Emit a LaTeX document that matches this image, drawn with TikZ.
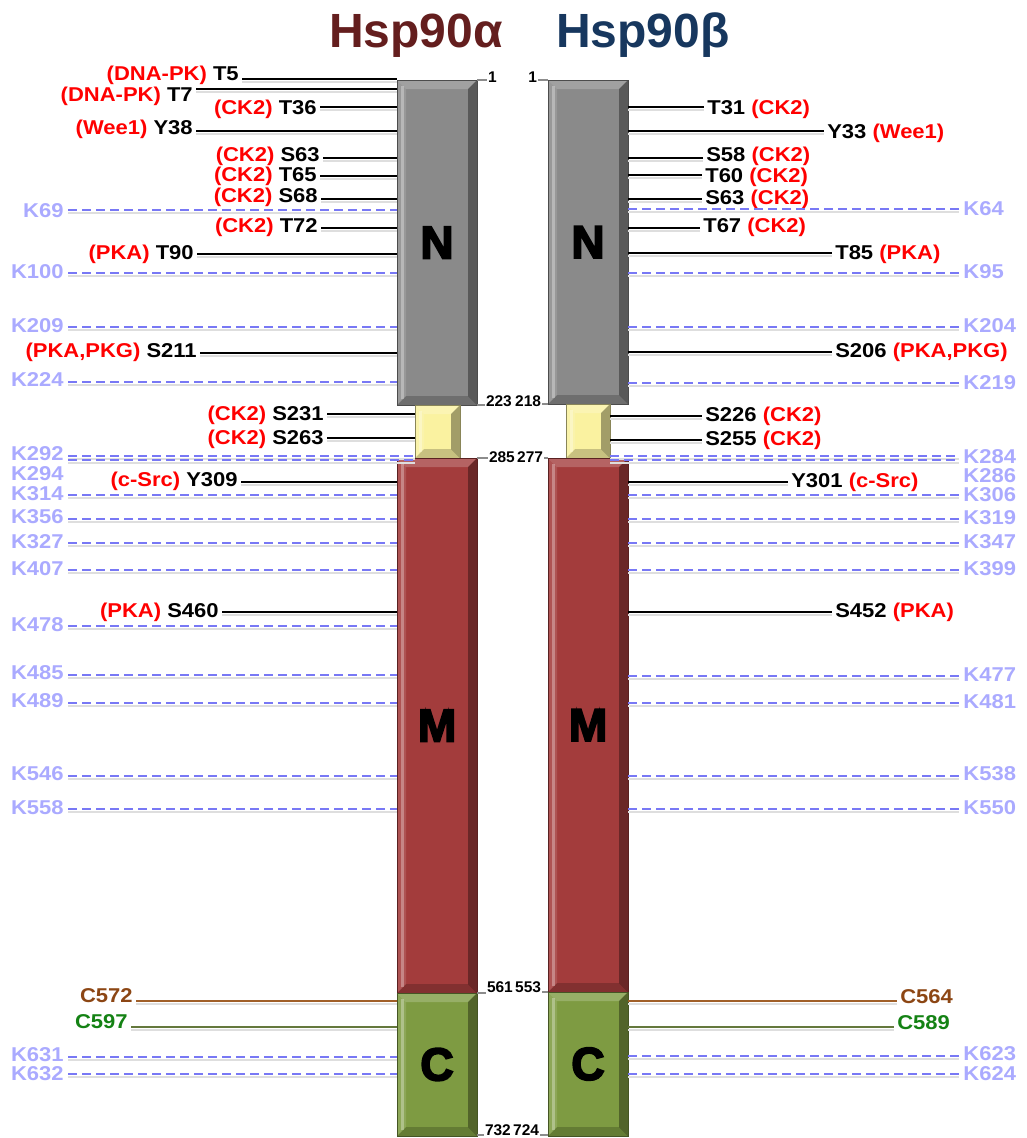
\documentclass[tikz,border=0pt]{standalone}
\usepackage{fontspec}
\setmainfont{Liberation Sans}
\newfontfamily\heavyfont[FakeBold=4]{Liberation Sans}
\definecolor{kinred}{RGB}{255,0,0}
\definecolor{lyslabel}{RGB}{170,170,255}
\definecolor{lysblue}{RGB}{120,120,245}
\definecolor{alphared}{RGB}{100,30,30}
\definecolor{betablue}{RGB}{23,55,94}
\definecolor{ngray}{RGB}{138,138,138}
\definecolor{linkyellow}{RGB}{250,242,160}
\definecolor{mred}{RGB}{163,60,60}
\definecolor{cgreen}{RGB}{126,155,66}
\definecolor{cysbrown}{RGB}{140,70,20}
\definecolor{cysgreen}{RGB}{20,130,20}
\definecolor{brownline}{RGB}{160,95,40}
\definecolor{oliveline}{RGB}{100,120,60}
\newcommand{\kin}[1]{\textcolor{kinred}{#1}}

\begin{document}
\begin{tikzpicture}[x=1pt, y=-1pt,
    title/.style={font=\bfseries\fontsize{48}{48}\selectfont, inner sep=0pt},
    site/.style={font=\bfseries\fontsize{20}{22}\selectfont, inner sep=0pt, outer xsep=3pt, xscale=1.1},
    lys/.style={site, text=lyslabel, outer xsep=4pt},
    num/.style={font=\bfseries\fontsize{15.5}{15.5}\selectfont, inner sep=0pt, outer xsep=1pt},
    tick/.style={draw=black!45, line width=2.2pt},
    shade line/.style={preaction={draw=black!13, line width=2pt, transform canvas={yshift=-2.5pt}}},
    siteline/.style={draw=black, line width=1.3pt, shade line},
    lysline/.style={draw=lysblue, line width=1.4pt, dash pattern=on 9pt off 5pt, shade line},
    domain/.style={fill=#1, draw=#1!55!black, line width=0.5pt, minimum width=80pt, inner sep=0pt, font=\heavyfont\bfseries\fontsize{46}{46}\selectfont, bevel},
    bevel/.style={path picture={
        \path (path picture bounding box.north west) coordinate (pnw)
              (path picture bounding box.north east) coordinate (pne)
              (path picture bounding box.south west) coordinate (psw)
              (path picture bounding box.south east) coordinate (pse);
        \fill[white, opacity=.2] (pnw) -- (pne) -- ([shift={(-9pt,-9pt)}]pne) -- ([shift={(9pt,-9pt)}]pnw) -- cycle;
        \fill[black, opacity=.35] (pne) -- (pse) -- ([shift={(-9pt,9pt)}]pse) -- ([shift={(-9pt,-9pt)}]pne) -- cycle;
        \fill[black, opacity=.2] (pse) -- (psw) -- ([shift={(9pt,9pt)}]psw) -- ([shift={(-9pt,9pt)}]pse) -- cycle;
        \fill[white, opacity=.12] (psw) -- (pnw) -- ([shift={(9pt,-9pt)}]pnw) -- ([shift={(9pt,9pt)}]psw) -- cycle;
        \fill[white, opacity=.3] ([shift={(4pt,-6pt)}]pnw) rectangle ([shift={(7pt,6pt)}]psw);
    }}]
    \useasboundingbox (0,0) rectangle (1027,1138);

    \node[title, text=alphared, anchor=base] (ta) at (416,47) {Hsp90α};
    \node[title, text=betablue, anchor=base] (tb) at (643,47) {Hsp90β};

    \node[domain=ngray, minimum height=325pt] (NA) at (437,242.5) {N};
    \node[domain=linkyellow, minimum width=45pt, minimum height=53pt] (LA) at (437.5,431.5) {};
    \node[domain=mred, minimum height=535pt] (MA) at (437,725.5) {M};
    \node[domain=cgreen, minimum height=143pt] (CA) at (437,1064.5) {C};
    \node[domain=ngray, minimum height=324pt] (NB) at (588,242) {N};
    \node[domain=linkyellow, minimum width=44pt, minimum height=54pt] (LB) at (588,431) {};
    \node[domain=mred, minimum height=534pt] (MB) at (588,725) {M};
    \node[domain=cgreen, minimum height=144pt] (CB) at (588,1064) {C};

    \node[num, anchor=west] (a1) at (487,77) {1};
    \node[num, anchor=east] (b1) at (538,77) {1};
    \node[num, anchor=west] (a223) at (485,401) {223};
    \node[num, anchor=east] (b218) at (542,401) {218};
    \node[num, anchor=west] (a285) at (488,457) {285};
    \node[num, anchor=east] (b277) at (544,457) {277};
    \node[num, anchor=west] (a561) at (486,987) {561};
    \node[num, anchor=east] (b553) at (542,987) {553};
    \node[num, anchor=west] (a732) at (484,1130) {732};
    \node[num, anchor=east] (b724) at (540,1130) {724};
    \draw[tick] (NA.north east) -- (NA.north east -| a1.west);
    \draw[tick] (NB.north west) -- (NB.north west -| b1.east);
    \draw[tick] (NA.south east) -- (NA.south east -| a223.west);
    \draw[tick] (NB.south west) -- (NB.south west -| b218.east);
    \draw[tick] (MA.north east) -- (MA.north east -| a285.west);
    \draw[tick] (MB.north west) -- (MB.north west -| b277.east);
    \draw[tick] (MA.south east) -- (MA.south east -| a561.west);
    \draw[tick] (MB.south west) -- (MB.south west -| b553.east);
    \draw[tick] ([yshift=1.5pt]CA.south east) -- ([yshift=1.5pt]CA.south east -| a732.west);
    \draw[tick] ([yshift=1.5pt]CB.south west) -- ([yshift=1.5pt]CB.south west -| b724.east);

    \node[site, anchor=base east] (aT5) at (242,80) {\kin{(DNA-PK)} T5};
    \node[site, anchor=base east] (aT7) at (196,101) {\kin{(DNA-PK)} T7};
    \node[site, anchor=base east] (aT36) at (320,114) {\kin{(CK2)} T36};
    \node[site, anchor=base east] (aY38) at (196,134) {\kin{(Wee1)} Y38};
    \node[site, anchor=base east] (aS63) at (323,161) {\kin{(CK2)} S63};
    \node[site, anchor=base east] (aT65) at (320,181) {\kin{(CK2)} T65};
    \node[site, anchor=base east] (aS68) at (321,202) {\kin{(CK2)} S68};
    \node[site, anchor=base east] (aT72) at (321,232) {\kin{(CK2)} T72};
    \node[site, anchor=base east] (aT90) at (197,259) {\kin{(PKA)} T90};
    \node[site, anchor=base east] (aS211) at (200,357) {\kin{(PKA,PKG)} S211};
    \node[site, anchor=base east] (aS231) at (327,420) {\kin{(CK2)} S231};
    \node[site, anchor=base east] (aS263) at (327,444) {\kin{(CK2)} S263};
    \node[site, anchor=base east] (aY309) at (241,486) {\kin{(c-Src)} Y309};
    \node[site, anchor=base east] (aS460) at (222,617) {\kin{(PKA)} S460};
    \node[site, anchor=base east, text=cysbrown] (aC572) at (136,1002) {C572};
    \node[site, anchor=base east, text=cysgreen] (aC597) at (131,1028) {C597};
    \draw[siteline] (aT5.east |- 0,79) -- (NA.west |- 0,79);
    \draw[siteline] (aT7.east |- 0,89) -- (NA.west |- 0,89);
    \draw[siteline] (aT36.east |- 0,107) -- (NA.west |- 0,107);
    \draw[siteline] (aY38.east |- 0,131) -- (NA.west |- 0,131);
    \draw[siteline] (aS63.east |- 0,158) -- (NA.west |- 0,158);
    \draw[siteline] (aT65.east |- 0,176) -- (NA.west |- 0,176);
    \draw[siteline] (aS68.east |- 0,199) -- (NA.west |- 0,199);
    \draw[siteline] (aT72.east |- 0,228) -- (NA.west |- 0,228);
    \draw[siteline] (aT90.east |- 0,254) -- (NA.west |- 0,254);
    \draw[siteline] (aS211.east |- 0,353) -- (NA.west |- 0,353);
    \draw[siteline] (aS231.east |- 0,414) -- (LA.west |- 0,414);
    \draw[siteline] (aS263.east |- 0,438) -- (LA.west |- 0,438);
    \draw[siteline] (aY309.east |- 0,482) -- (MA.west |- 0,482);
    \draw[siteline] (aS460.east |- 0,612) -- (MA.west |- 0,612);
    \draw[siteline, draw=brownline] (aC572.east |- 0,1001) -- (CA.west |- 0,1001);
    \draw[siteline, draw=oliveline] (aC597.east |- 0,1027) -- (CA.west |- 0,1027);

    \node[site, anchor=base west] (bT31) at (704,114) {T31 \kin{(CK2)}};
    \node[site, anchor=base west] (bY33) at (824,138) {Y33 \kin{(Wee1)}};
    \node[site, anchor=base west] (bS58) at (703,161) {S58 \kin{(CK2)}};
    \node[site, anchor=base west] (bT60) at (702,182) {T60 \kin{(CK2)}};
    \node[site, anchor=base west] (bS63) at (702,204) {S63 \kin{(CK2)}};
    \node[site, anchor=base west] (bT67) at (700,232) {T67 \kin{(CK2)}};
    \node[site, anchor=base west] (bT85) at (832,259) {T85 \kin{(PKA)}};
    \node[site, anchor=base west] (bS206) at (832,357) {S206 \kin{(PKA,PKG)}};
    \node[site, anchor=base west] (bS226) at (702,421) {S226 \kin{(CK2)}};
    \node[site, anchor=base west] (bS255) at (702,445) {S255 \kin{(CK2)}};
    \node[site, anchor=base west] (bY301) at (788,487) {Y301 \kin{(c-Src)}};
    \node[site, anchor=base west] (bS452) at (832,617) {S452 \kin{(PKA)}};
    \node[site, anchor=base west, text=cysbrown] (bC564) at (897,1003) {C564};
    \node[site, anchor=base west, text=cysgreen] (bC589) at (894,1029) {C589};
    \draw[siteline] (NB.east |- 0,107) -- (bT31.west |- 0,107);
    \draw[siteline] (NB.east |- 0,131) -- (bY33.west |- 0,131);
    \draw[siteline] (NB.east |- 0,158) -- (bS58.west |- 0,158);
    \draw[siteline] (NB.east |- 0,175) -- (bT60.west |- 0,175);
    \draw[siteline] (NB.east |- 0,199) -- (bS63.west |- 0,199);
    \draw[siteline] (NB.east |- 0,228) -- (bT67.west |- 0,228);
    \draw[siteline] (NB.east |- 0,253) -- (bT85.west |- 0,253);
    \draw[siteline] (NB.east |- 0,352) -- (bS206.west |- 0,352);
    \draw[siteline] (LB.east |- 0,416) -- (bS226.west |- 0,416);
    \draw[siteline] (LB.east |- 0,440) -- (bS255.west |- 0,440);
    \draw[siteline] (MB.east |- 0,482) -- (bY301.west |- 0,482);
    \draw[siteline] (MB.east |- 0,612) -- (bS452.west |- 0,612);
    \draw[siteline, draw=brownline] (CB.east |- 0,1001) -- (bC564.west |- 0,1001);
    \draw[siteline, draw=oliveline] (CB.east |- 0,1027) -- (bC589.west |- 0,1027);

    \node[lys, anchor=base east] (aK69) at (68,217) {K69};
    \node[lys, anchor=base east] (aK100) at (68,278) {K100};
    \node[lys, anchor=base east] (aK209) at (68,332) {K209};
    \node[lys, anchor=base east] (aK224) at (68,386) {K224};
    \node[lys, anchor=base east] (aK292) at (68,460) {K292};
    \node[lys, anchor=base east] (aK294) at (68,480) {K294};
    \node[lys, anchor=base east] (aK314) at (68,500) {K314};
    \node[lys, anchor=base east] (aK356) at (68,523) {K356};
    \node[lys, anchor=base east] (aK327) at (68,548) {K327};
    \node[lys, anchor=base east] (aK407) at (68,575) {K407};
    \node[lys, anchor=base east] (aK478) at (68,631) {K478};
    \node[lys, anchor=base east] (aK485) at (68,679) {K485};
    \node[lys, anchor=base east] (aK489) at (68,707) {K489};
    \node[lys, anchor=base east] (aK546) at (68,780) {K546};
    \node[lys, anchor=base east] (aK558) at (68,814) {K558};
    \node[lys, anchor=base east] (aK631) at (68,1061) {K631};
    \node[lys, anchor=base east] (aK632) at (68,1080) {K632};
    \draw[lysline] (aK69.east |- 0,210) -- (NA.west |- 0,210);
    \draw[lysline] (aK100.east |- 0,273) -- (NA.west |- 0,273);
    \draw[lysline] (aK209.east |- 0,327) -- (NA.west |- 0,327);
    \draw[lysline] (aK224.east |- 0,382) -- (NA.west |- 0,382);
    \draw[lysline] (aK292.east |- 0,456) -- (LA.west |- 0,456);
    \draw[lysline] (aK294.east |- 0,460) -- (LA.west |- 0,460);
    \draw[lysline] (aK314.east |- 0,495) -- (MA.west |- 0,495);
    \draw[lysline] (aK356.east |- 0,519) -- (MA.west |- 0,519);
    \draw[lysline] (aK327.east |- 0,543) -- (MA.west |- 0,543);
    \draw[lysline] (aK407.east |- 0,570) -- (MA.west |- 0,570);
    \draw[lysline] (aK478.east |- 0,626) -- (MA.west |- 0,626);
    \draw[lysline] (aK485.east |- 0,675) -- (MA.west |- 0,675);
    \draw[lysline] (aK489.east |- 0,703) -- (MA.west |- 0,703);
    \draw[lysline] (aK546.east |- 0,776) -- (MA.west |- 0,776);
    \draw[lysline] (aK558.east |- 0,809) -- (MA.west |- 0,809);
    \draw[lysline] (aK631.east |- 0,1057) -- (CA.west |- 0,1057);
    \draw[lysline] (aK632.east |- 0,1074) -- (CA.west |- 0,1074);

    \node[lys, anchor=base west] (bK64) at (959,215) {K64};
    \node[lys, anchor=base west] (bK95) at (959,278) {K95};
    \node[lys, anchor=base west] (bK204) at (959,332) {K204};
    \node[lys, anchor=base west] (bK219) at (959,389) {K219};
    \node[lys, anchor=base west] (bK284) at (959,463) {K284};
    \node[lys, anchor=base west] (bK286) at (959,482) {K286};
    \node[lys, anchor=base west] (bK306) at (959,501) {K306};
    \node[lys, anchor=base west] (bK319) at (959,524) {K319};
    \node[lys, anchor=base west] (bK347) at (959,548) {K347};
    \node[lys, anchor=base west] (bK399) at (959,575) {K399};
    \node[lys, anchor=base west] (bK477) at (959,681) {K477};
    \node[lys, anchor=base west] (bK481) at (959,708) {K481};
    \node[lys, anchor=base west] (bK538) at (959,780) {K538};
    \node[lys, anchor=base west] (bK550) at (959,814) {K550};
    \node[lys, anchor=base west] (bK623) at (959,1060) {K623};
    \node[lys, anchor=base west] (bK624) at (959,1080) {K624};
    \draw[lysline] (NB.east |- 0,209) -- (bK64.west |- 0,209);
    \draw[lysline] (NB.east |- 0,273) -- (bK95.west |- 0,273);
    \draw[lysline] (NB.east |- 0,327) -- (bK204.west |- 0,327);
    \draw[lysline] (NB.east |- 0,383) -- (bK219.west |- 0,383);
    \draw[lysline] (LB.east |- 0,456) -- (bK284.west |- 0,456);
    \draw[lysline] (LB.east |- 0,460) -- (bK286.west |- 0,460);
    \draw[lysline] (MB.east |- 0,495) -- (bK306.west |- 0,495);
    \draw[lysline] (MB.east |- 0,519) -- (bK319.west |- 0,519);
    \draw[lysline] (MB.east |- 0,543) -- (bK347.west |- 0,543);
    \draw[lysline] (MB.east |- 0,570) -- (bK399.west |- 0,570);
    \draw[lysline] (MB.east |- 0,676) -- (bK477.west |- 0,676);
    \draw[lysline] (MB.east |- 0,703) -- (bK481.west |- 0,703);
    \draw[lysline] (MB.east |- 0,776) -- (bK538.west |- 0,776);
    \draw[lysline] (MB.east |- 0,809) -- (bK550.west |- 0,809);
    \draw[lysline] (CB.east |- 0,1056) -- (bK623.west |- 0,1056);
    \draw[lysline] (CB.east |- 0,1074) -- (bK624.west |- 0,1074);
\end{tikzpicture}
\end{document}
